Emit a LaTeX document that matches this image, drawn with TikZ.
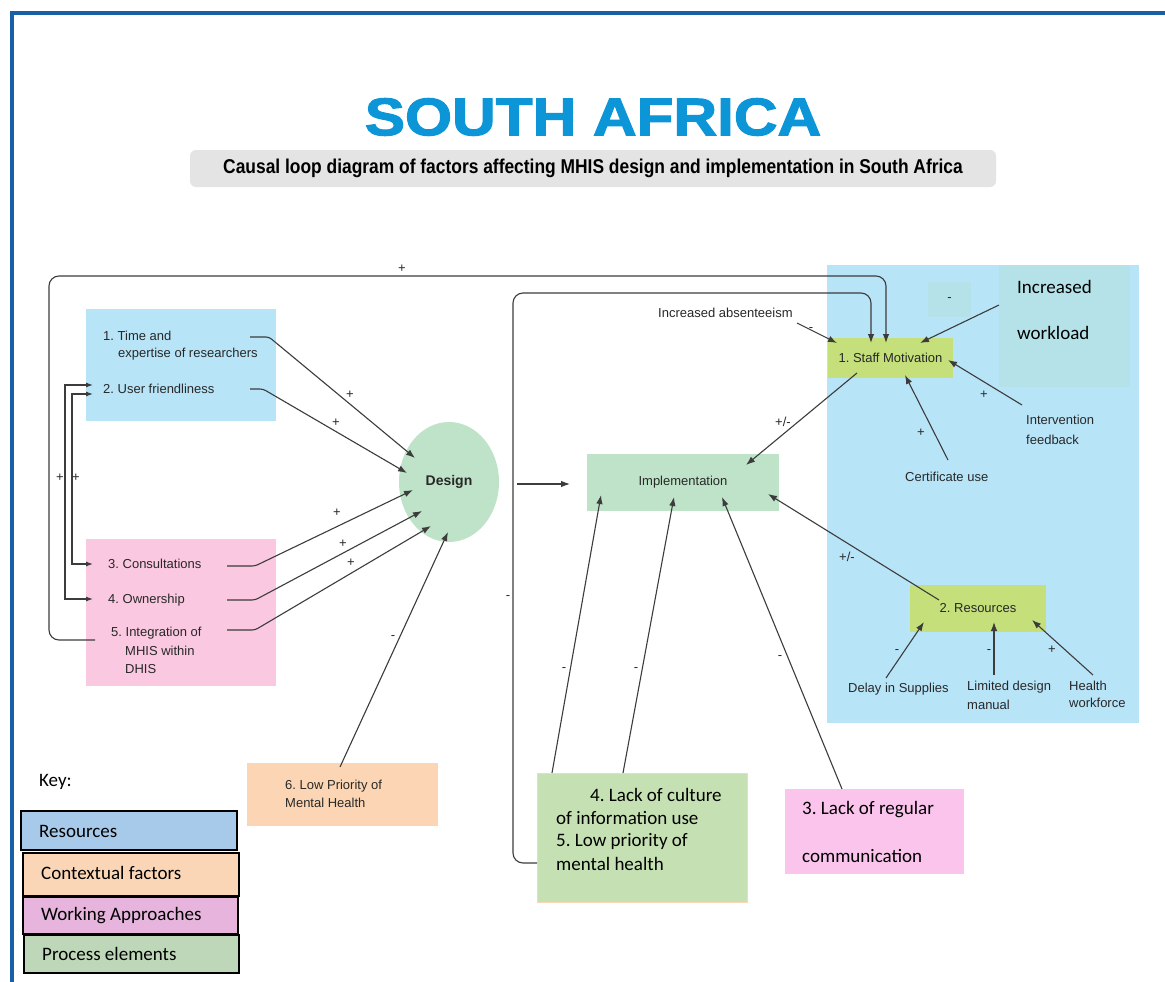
\documentclass[tikz,border=0pt]{standalone}
\usepackage{fontspec}
\setmainfont{Liberation Sans}
\newfontfamily\calib{Carlito}
\newfontfamily\heavyfont[FakeBold=2]{Liberation Sans Bold}
\usetikzlibrary{arrows.meta,shapes.geometric,calc}
\definecolor{lineg}{RGB}{60,60,60}
\definecolor{txtg}{RGB}{40,40,40}
\definecolor{frameblue}{RGB}{25,95,165}
\definecolor{titleblue}{RGB}{12,150,215}
\definecolor{subg}{RGB}{228,228,228}
\definecolor{cblue}{RGB}{184,228,248}
\definecolor{cteal}{RGB}{180,226,232}
\definecolor{cpink}{RGB}{250,200,224}
\definecolor{cdgreen}{RGB}{191,227,200}
\definecolor{cyg}{RGB}{197,224,122}
\definecolor{corange}{RGB}{252,214,180}
\definecolor{cbgreen}{RGB}{197,224,178}
\definecolor{cpink2}{RGB}{251,196,236}
\definecolor{kblue}{RGB}{168,202,234}
\definecolor{korange}{RGB}{251,214,182}
\definecolor{kpurple}{RGB}{230,180,220}
\definecolor{kgreen}{RGB}{190,215,184}
\begin{document}
\frenchspacing
\begin{tikzpicture}[x=1pt,y=-1pt,
 ln/.style={draw=lineg,line width=1.1pt},
 arr/.style={ln,-{Latex[length=9pt,width=6.5pt]}},
 sarr/.style={ln,{Latex[length=7pt,width=5pt]}-{Latex[length=7pt,width=5pt]}},
 box/.style={inner sep=0pt,outer sep=0pt,draw=none},
 ar/.style={font=\fontsize{13}{16}\selectfont,inner sep=0pt,text=txtg},
 cal/.style={font=\calib\fontsize{19}{22}\selectfont,inner sep=0pt,text=black},
 sg/.style={font=\fontsize{13}{13}\selectfont,inner sep=0pt,text=txtg},
 keybox/.style={draw=black,line width=1.6pt,minimum width=216pt,inner sep=0pt}]
\useasboundingbox (0,0) rectangle (1165,982);
\fill[white] (0,0) rectangle (1165,982);
\draw[frameblue,line width=4pt] (12,982) -- (12,13) -- (1165,13);

% title
\node[font=\heavyfont\fontsize{53}{53}\selectfont,text=titleblue,inner sep=0pt] (title) at (593,117) {\scalebox{1.14}[1]{SOUTH AFRICA}};
\node[fill=subg,rounded corners=6pt,minimum width=806pt,minimum height=37pt,inner sep=0pt] (sub) at (593,168.5)
 {\bfseries\fontsize{20}{20}\selectfont\scalebox{0.87}[1]{Causal loop diagram of factors affecting MHIS design and implementation in South Africa}};

% background areas
\node[box,fill=cblue,minimum width=312pt,minimum height=458pt] (resarea) at (983,494) {};
\node[box,fill=cteal,minimum width=131pt,minimum height=122pt] (wl) at (1064.5,326) {};
\node[box,fill=cteal,minimum width=43pt,minimum height=35pt,sg] (mbox) at (949.5,299.5) {-};
\node[cal,anchor=west] (wl1) at (1017,287) {Increased};
\node[cal,anchor=west] (wl2) at (1017,333) {workload};

\node[box,fill=cblue,minimum width=190pt,minimum height=112pt] (lblue) at (181,365) {};
\node[box,fill=cpink,minimum width=190pt,minimum height=147pt] (lpink) at (181,612.5) {};
\node[box,fill=cyg,minimum width=125pt,minimum height=40pt,ar] (sm) at (890.5,358) {1. Staff Motivation};
\node[box,fill=cdgreen,minimum width=192pt,minimum height=57pt,ar] (impl) at (683,482.5) {Implementation};
\node[ellipse,fill=cdgreen,minimum width=100pt,minimum height=120pt,inner sep=0pt,font=\bfseries\fontsize{14}{14}\selectfont,text=txtg] (design) at (449,482) {Design};
\node[box,fill=cyg,minimum width=136pt,minimum height=47pt,ar] (res) at (978,608.5) {2. Resources};
\node[box,fill=corange,minimum width=191pt,minimum height=63pt] (lowp) at (342.5,794.5) {};
\node[box,fill=cbgreen,draw=korange,line width=0.8pt,minimum width=210pt,minimum height=129pt] (lack) at (642,837.5) {};
\node[box,fill=cpink2,minimum width=179pt,minimum height=85pt] (comm) at (874.5,831.5) {};

% texts
\node[ar,anchor=west] (t1a) at (103,336) {1. Time and};
\node[ar,anchor=west] (t1b) at (118,354) {expertise of researchers};
\node[ar,anchor=west] (t2) at (103,389) {2. User friendliness};
\node[ar,anchor=west] (t3) at (108,564) {3. Consultations};
\node[ar,anchor=west] (t4) at (108,600) {4. Ownership};
\node[ar,anchor=west] (t5a) at (111,633) {5. Integration of};
\node[ar,anchor=west] (t5b) at (125,651) {MHIS within};
\node[ar,anchor=west] (t5c) at (125,669) {DHIS};
\node[ar,anchor=west] (t6a) at (285,786) {6. Low Priority of};
\node[ar,anchor=west] (t6b) at (285,803) {Mental Health};
\node[ar,anchor=west] (abs) at (658,313) {Increased absenteeism};
\node[ar,anchor=west] (iv1) at (1026,420) {Intervention};
\node[ar,anchor=west] (iv2) at (1026,440) {feedback};
\node[ar,anchor=west] (cert) at (905,477) {Certificate use};
\node[ar,anchor=west] (delay) at (848,689) {Delay in Supplies};
\node[ar,anchor=west] (lim1) at (967,687) {Limited design};
\node[ar,anchor=west] (lim2) at (967,705) {manual};
\node[ar,anchor=west] (hw1) at (1069,686) {Health};
\node[ar,anchor=west] (hw2) at (1069,703) {workforce};
\node[cal,anchor=west] (l4) at (590,795) {4. Lack of culture};
\node[cal,anchor=west] (l4b) at (556,818) {of information use};
\node[cal,anchor=west] (l5) at (556,841) {5. Low priority of};
\node[cal,anchor=west] (l5b) at (556,864) {mental health};
\node[cal,anchor=west] (c1) at (802,810) {3. Lack of regular};
\node[cal,anchor=west] (c2) at (802,856) {communication};

% coordinates for connector ends
\coordinate (s1) at (250,337); \coordinate (s2) at (250,389);
\coordinate (s3) at (227,566); \coordinate (s4) at (227,600); \coordinate (s5) at (227,630);
\coordinate (b2a) at (93,385); \coordinate (b4) at (93,599);
\coordinate (b2b) at (93,394); \coordinate (b3) at (93,564);

% left arrows into design
\draw[arr,rounded corners=3pt] (s1) -- (269,337) -- ($(design)+(-34,-24)$);
\draw[arr,rounded corners=3pt] (s2) -- (263,389) -- ($(design)+(-42,-9)$);
\draw[arr,rounded corners=3pt] (s3) -- (255,566) -- ($(design)+(-36,8)$);
\draw[arr,rounded corners=3pt] (s4) -- (255,600) -- ($(design)+(-27,29)$);
\draw[arr,rounded corners=3pt] (s5) -- (255,630) -- ($(design)+(-18,44)$);
\draw[arr] (lowp.north -| 340,0) ++(0,4) -- ($(design)+(-1,50)$);
\node[sg] at (350,395) {+};
\node[sg] at (336,423) {+};
\node[sg] at (337,513) {+};
\node[sg] at (343,544) {+};
\node[sg] at (351,563) {+};
\node[sg] at (393,638) {-};

% left brackets
\draw[sarr] (b2a) -- (65,385) -- (65,599) -- (b4);
\draw[sarr] (b2b) -- (72,394) -- (72,564) -- (b3);
\node[sg] at (60,478) {+};
\node[sg] at (76,478) {+};

% outer loop
\draw[arr,rounded corners=10pt] (95,640) -- (49,640) -- (49,276) -- (886,276) -- ([xshift=-4.5pt,yshift=-5pt]sm.north);
\node[sg] at (402,269) {+};
% inner loop
\draw[arr,rounded corners=10pt] (lack.west |- 0,863) -- (513,863) -- (513,293) -- (871,293) -- ([xshift=-19.5pt,yshift=-5pt]sm.north);
\node[sg] at (508,598) {-};

% design -> implementation
\coordinate (d0) at (517,484);
\draw[arr] (d0) -- ([xshift=-17pt]impl.west |- d0);

% staff motivation arrows
\draw[arr] (797,323) -- (837,343);
\node[sg] at (811,330) {-};
\draw[arr] (999,305) -- (920,343);
\draw[arr] (1022,405) -- (948,360);
\node[sg] at (984,395) {+};
\draw[arr] (948,460) -- (905,375);
\node[sg] at (921,433) {+};
\draw[arr] (857,373) -- (746,465);
\node[sg] at (783,422) {+/-};

% resources arrows
\draw[arr] (939,600) -- (768,494);
\node[sg] at (847,557) {+/-};
\draw[arr] (886,678) -- (924,622);
\node[sg] at (897,652) {-};
\draw[arr] (994,675) -- (994,622);
\node[sg] at (989,652) {-};
\draw[arr] (1093,675) -- (1032,620);
\node[sg] at (1052,650) {+};

% bottom arrows into implementation
\draw[arr] (552,773) -- (601,495);
\node[sg] at (564,670) {-};
\draw[arr] (623,773) -- (674,497);
\node[sg] at (636,670) {-};
\draw[arr] (842,789) -- (722,497);
\node[sg] at (780,658) {-};

% key
\node[cal,anchor=west] (key) at (39,782) {Key:};
\node[keybox,fill=kblue,minimum height=39pt,anchor=north west] (k1) at (20,810) {};
\node[cal,anchor=west] at (39,831) {Resources};
\node[keybox,fill=korange,minimum height=43pt,anchor=north west] (k2) at (22,852) {};
\node[cal,anchor=west] at (41,873) {Contextual factors};
\node[keybox,fill=kpurple,minimum height=37pt,minimum width=215pt,anchor=north west] (k3) at (22,896) {};
\node[cal,anchor=west] at (41,916) {Working Approaches};
\node[keybox,fill=kgreen,minimum height=38pt,minimum width=215pt,anchor=north west] (k4) at (23,934) {};
\node[cal,anchor=west] at (42,954) {Process elements};
\end{tikzpicture}
\end{document}
